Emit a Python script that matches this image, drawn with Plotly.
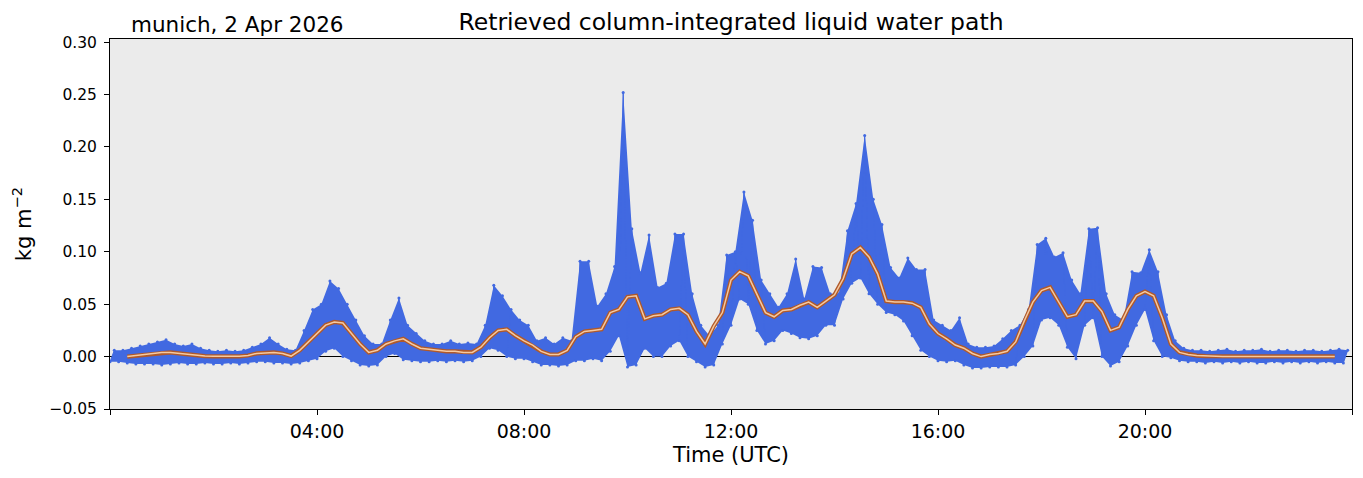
"""
Liquid water path retrieval for one day: raw retrievals (blue) with a
rolling-mean overlay (orange). Values read off the reference figure.
"""

import pandas as pd
import plotly.graph_objects as go

DAY = "2026-04-02"
SITE_LABEL = "munich, 2 Apr 2026"
TITLE = "Retrieved column-integrated liquid water path"

# raw retrievals, summarised per 10-minute bin (kg m-2): lower and upper edge
lwp_lo = [
    -0.005, -0.005, -0.006, -0.007, -0.007, -0.007,   # 00h
    -0.008, -0.007, -0.006, -0.007, -0.007, -0.006,   # 01h
    -0.007, -0.007, -0.006, -0.007, -0.006, -0.005,   # 02h
    -0.005, -0.006, -0.006, -0.007, -0.006, -0.004,   # 03h
    -0.002, 0.005, 0.008, 0.000, -0.004, -0.008,      # 04h
    -0.009, -0.008, 0.000, 0.003, -0.003, -0.004,     # 05h
    -0.005, -0.005, -0.004, -0.005, -0.004, -0.005,   # 06h
    -0.004, 0.000, 0.008, 0.006, 0.000, -0.002,       # 07h
    -0.002, -0.005, -0.008, -0.008, -0.009, -0.008,   # 08h
    -0.004, -0.004, -0.002, -0.004, 0.005, 0.020,     # 09h
    -0.010, -0.008, 0.008, 0.000, 0.000, 0.010,       # 10h
    0.015, 0.000, -0.005, -0.010, -0.008, 0.012,      # 11h
    0.030, 0.055, 0.050, 0.025, 0.012, 0.015,         # 12h
    0.025, 0.022, 0.018, 0.017, 0.020, 0.030,         # 13h
    0.030, 0.055, 0.070, 0.075, 0.060, 0.050,         # 14h
    0.042, 0.040, 0.034, 0.020, 0.006, 0.000,         # 15h
    -0.004, -0.005, -0.004, -0.008, -0.011, -0.011,   # 16h
    -0.010, -0.010, -0.010, -0.008, 0.000, 0.010,     # 17h
    0.035, 0.037, 0.030, 0.009, -0.002, 0.030,        # 18h
    0.037, 0.000, -0.009, -0.005, 0.010, 0.030,       # 19h
    0.045, 0.015, 0.000, -0.001, -0.004, -0.005,      # 20h
    -0.005, -0.006, -0.005, -0.006, -0.005, -0.006,   # 21h
    -0.005, -0.006, -0.006, -0.005, -0.006, -0.005,   # 22h
    -0.006, -0.005, -0.006, -0.005, -0.006, -0.006,   # 23h
]
lwp_hi = [
    0.006, 0.006, 0.008, 0.010, 0.012, 0.014,         # 00h
    0.016, 0.012, 0.010, 0.012, 0.008, 0.006,         # 01h
    0.005, 0.006, 0.005, 0.006, 0.009, 0.012,         # 02h
    0.018, 0.012, 0.007, 0.006, 0.025, 0.045,         # 03h
    0.050, 0.072, 0.065, 0.050, 0.035, 0.020,         # 04h
    0.012, 0.012, 0.035, 0.056, 0.030, 0.022,         # 05h
    0.015, 0.012, 0.012, 0.015, 0.012, 0.013,         # 06h
    0.012, 0.030, 0.068, 0.058, 0.045, 0.035,         # 07h
    0.030, 0.015, 0.018, 0.012, 0.018, 0.015,         # 08h
    0.091, 0.091, 0.048, 0.060, 0.086, 0.252,         # 09h
    0.122, 0.080, 0.116, 0.066, 0.070, 0.117,         # 10h
    0.117, 0.060, 0.030, 0.020, 0.030, 0.097,         # 11h
    0.100, 0.157, 0.130, 0.073, 0.060, 0.047,         # 12h
    0.060, 0.093, 0.055, 0.086, 0.085, 0.060,         # 13h
    0.060, 0.120, 0.146, 0.211, 0.150, 0.126,         # 14h
    0.085, 0.075, 0.094, 0.083, 0.083, 0.035,         # 15h
    0.030, 0.025, 0.037, 0.012, 0.009, 0.009,         # 16h
    0.010, 0.017, 0.025, 0.030, 0.045, 0.107,         # 17h
    0.113, 0.095, 0.099, 0.073, 0.060, 0.122,         # 18h
    0.123, 0.060, 0.040, 0.035, 0.081, 0.080,         # 19h
    0.102, 0.081, 0.040, 0.015, 0.008, 0.006,         # 20h
    0.006, 0.005, 0.006, 0.007, 0.005, 0.006,         # 21h
    0.006, 0.007, 0.005, 0.006, 0.006, 0.005,         # 22h
    0.006, 0.006, 0.005, 0.006, 0.007, 0.006,         # 23h
]

# rolling mean, 00:20 .. 23:40 every 10 minutes
lwp_smooth = [
    0.000, 0.001, 0.002, 0.003,                          # 00h (from :20)
    0.004, 0.004, 0.003, 0.002, 0.001, 0.0005,           # 01h
    0.0003, 0.0002, 0.0002, 0.0003, 0.001, 0.003,       # 02h
    0.0035, 0.004, 0.003, 0.0005, 0.006, 0.014,         # 03h
    0.022, 0.030, 0.033, 0.032, 0.022, 0.012,           # 04h
    0.004, 0.006, 0.012, 0.015, 0.017, 0.012,           # 05h
    0.008, 0.007, 0.0055, 0.005, 0.005, 0.004,          # 06h
    0.004, 0.009, 0.018, 0.025, 0.026, 0.020,           # 07h
    0.015, 0.011, 0.005, 0.002, 0.002, 0.006,           # 08h
    0.019, 0.024, 0.025, 0.026, 0.042, 0.045,           # 09h
    0.057, 0.058, 0.036, 0.039, 0.040, 0.045,           # 10h
    0.046, 0.040, 0.024, 0.012, 0.029, 0.042,           # 11h
    0.073, 0.081, 0.077, 0.060, 0.042, 0.038,           # 12h
    0.044, 0.045, 0.049, 0.052, 0.047, 0.053,           # 13h
    0.059, 0.074, 0.098, 0.104, 0.095, 0.079,           # 14h
    0.053, 0.052, 0.052, 0.051, 0.047, 0.031,           # 15h
    0.022, 0.017, 0.011, 0.008, 0.003, 0.000,           # 16h
    0.002, 0.003, 0.005, 0.014, 0.034, 0.052,           # 17h
    0.063, 0.066, 0.052, 0.038, 0.040, 0.053,           # 18h
    0.053, 0.043, 0.025, 0.028, 0.045, 0.058,           # 19h
    0.062, 0.058, 0.037, 0.012, 0.004, 0.002,           # 20h
    0.001, 0.0005, 0.0003, 0.0002, 0.0002, 0.0002,      # 21h
    0.0002, 0.0002, 0.0002, 0.0002, 0.0002, 0.0002,     # 22h
    0.0002, 0.0002, 0.0002, 0.0002, 0.0002,             # 23h (to :40)
]

label_hours = [4, 8, 12, 16, 20]
edge_hours = [0, 24]
hour_labels = ["04:00", "08:00", "12:00", "16:00", "20:00"]
y_ticks = [-0.05, 0.0, 0.05, 0.10, 0.15, 0.20, 0.25, 0.30]

FONT = "DejaVu Sans"
BLUE = "#4169e1"

day0 = pd.Timestamp(DAY)
bins = pd.date_range(day0, periods=len(lwp_lo), freq="10min")
half = pd.Timedelta(minutes=5)
smooth_t = pd.date_range(day0 + pd.Timedelta(minutes=20),
                         periods=len(lwp_smooth), freq="10min")

# zig-zag through lower/upper edge of each bin so it reads like dense samples
zz_t, zz_v = [], []
for t, lo, hi in zip(bins, lwp_lo, lwp_hi):
    zz_t += [t, t + half]
    zz_v += [lo, hi]

fig = go.Figure()
fig.add_trace(go.Scatter(x=list(bins), y=lwp_lo, mode="lines",
                         line=dict(width=0, color=BLUE), hoverinfo="skip",
                         showlegend=False))
fig.add_trace(go.Scatter(x=[t + half for t in bins], y=lwp_hi, mode="lines",
                         line=dict(width=0, color=BLUE), fill="tonexty",
                         fillcolor=BLUE, showlegend=False))
fig.add_trace(go.Scatter(x=zz_t, y=zz_v, mode="lines+markers",
                         line=dict(width=1, color=BLUE),
                         marker=dict(size=3, color=BLUE), showlegend=False))
# rolling mean: sienna outline with a pale core
fig.add_trace(go.Scatter(x=smooth_t, y=lwp_smooth, mode="lines",
                         line=dict(width=4.2, color="#b0592a"),
                         showlegend=False))
fig.add_trace(go.Scatter(x=smooth_t, y=lwp_smooth, mode="lines",
                         line=dict(width=1.5, color="#f5c9a0"),
                         showlegend=False))

tick_x = [day0 + pd.Timedelta(hours=h) for h in label_hours]
edge_x = [day0 + pd.Timedelta(hours=h) for h in edge_hours]
fig.update_xaxes(type="date", range=edge_x,
                 tickvals=tick_x, ticktext=hour_labels,
                 ticks="outside", ticklen=5, tickcolor="black",
                 minor=dict(tickvals=edge_x, ticks="outside", ticklen=5,
                            tickcolor="black"),
                 tickfont=dict(size=19, color="black"),
                 showline=True, linecolor="black", linewidth=1, mirror=True,
                 showgrid=False, zeroline=False, automargin=False,
                 title=dict(text="Time (UTC)", font=dict(size=21), standoff=6))
fig.update_yaxes(range=[-0.05, 0.303], tickvals=y_ticks,
                 tickformat=".2f", ticks="outside", ticklen=5, tickcolor="black",
                 tickfont=dict(size=15.5, color="black"), ticklabelstandoff=4,
                 showline=True, linecolor="black", linewidth=1, mirror=True,
                 showgrid=False, zeroline=True, zerolinecolor="black",
                 zerolinewidth=1, automargin=False,
                 title=dict(text="kg m<sup>−2</sup>", font=dict(size=21),
                            standoff=18))
# page body keeps an 8px margin, so the figure is 16px smaller than the window
fig.update_layout(
    width=1347, height=462,
    margin=dict(l=102, r=3, t=31, b=61),
    paper_bgcolor="white", plot_bgcolor="#ebebeb",
    font=dict(family=FONT, color="black"),
    title=dict(text=TITLE, x=0.5, xref="paper", y=0.97, yref="container",
               yanchor="middle", font=dict(size=23.5)),
    annotations=[dict(text=SITE_LABEL, xref="paper", yref="paper",
                      x=0.015, y=1.0, xanchor="left", yanchor="bottom",
                      showarrow=False, font=dict(size=21.5))],
)
fig.write_html("out.html")
